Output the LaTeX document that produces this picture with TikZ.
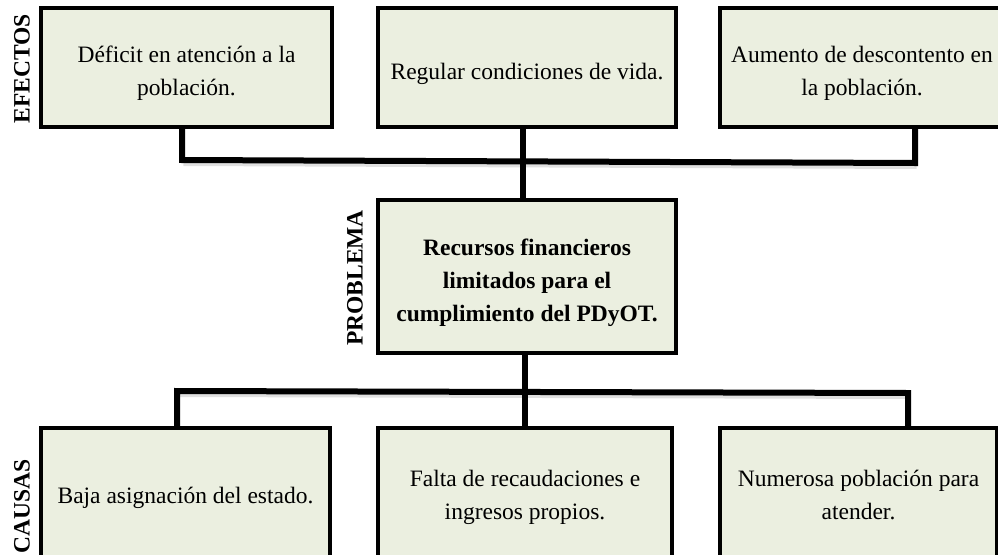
\documentclass[tikz,border=0pt]{standalone}
\usepackage{fontspec}
\setmainfont{Liberation Serif}
\definecolor{boxfill}{RGB}{235,239,224}
\begin{document}
\begin{tikzpicture}[x=1pt,y=-1pt,
  box/.style={draw=black,line width=4.5pt,fill=boxfill,rectangle,inner sep=0pt},
  boxtext/.style={align=center,inner sep=0pt,font=\fontsize{23.5}{33}\selectfont},
  probtext/.style={boxtext,font=\fontsize{23.5}{33}\selectfont\bfseries},
  sidelabel/.style={rotate=90,font=\fontsize{23.5}{28}\selectfont\bfseries,inner sep=0pt},
  conn/.style={line width=6pt,line join=miter,line cap=rect},
  connshadow/.style={line width=6pt,line join=miter,draw=black!35,opacity=0.35}]
\useasboundingbox (0,0) rectangle (998,554);
\clip (0,0) rectangle (998,554);
% boxes
\node[box,minimum width=291pt,minimum height=119pt] (e1) at (186.5,67.5) {};
\node[box,minimum width=298pt,minimum height=119pt] (e2) at (527,67.5) {};
\node[box,minimum width=290pt,minimum height=119pt] (e3) at (865,67.5) {};
\node[box,minimum width=298pt,minimum height=153pt] (p) at (527,276.5) {};
\node[box,minimum width=289pt,minimum height=138pt] (c1) at (185.5,497) {};
\node[box,minimum width=294pt,minimum height=138pt] (c2) at (525,497) {};
\node[box,minimum width=277pt,minimum height=138pt] (c3) at (858.5,497) {};
% texts
\node[boxtext] (e1t) at ([yshift=-6pt]e1.center) {Déficit en atención a la\\población.};
\node[boxtext] (e2t) at ([yshift=-6pt]e2.center) {Regular condiciones de vida.};
\node[boxtext] (e3t) at ([yshift=-6pt,xshift=-3pt]e3.center) {Aumento de descontento en\\la población.};
\node[probtext] (pt) at ([yshift=-6pt]p.center) {Recursos financieros\\limitados para el\\cumplimiento del PDyOT.};
\node[boxtext] (c1t) at ([yshift=-1pt]c1.center) {Baja asignación del estado.};
\node[boxtext] (c2t) at (c2.center) {Falta de recaudaciones e\\ingresos propios.};
\node[boxtext] (c3t) at ([yshift=2pt]c3.center) {Numerosa población para\\atender.};
% side labels
\node[sidelabel] (lef) at (22,69) {EFECTOS};
\node[sidelabel] (lpr) at (355,278) {PROBLEMA};
\node[sidelabel] (lca) at (22,506) {CAUSAS};
% junction coordinates
\coordinate (t1) at (182,160);
\coordinate (t2) at (523,161.5);
\coordinate (t3) at (915,163);
\coordinate (b1) at (177,391);
\coordinate (b2) at (525,392);
\coordinate (b3) at (908,393);
% shadows
\draw[connshadow,transform canvas={shift={(1.5pt,-3pt)}}] (t1) -- (t3);
\draw[connshadow,transform canvas={shift={(1.5pt,-3pt)}}] (b1) -- (b3);
% connectors
\draw[conn] (e1.south -| t1) -- (t1) -- (t3) -- (e3.south -| t3);
\draw[conn] (e2.south -| t2) -- (p.north -| t2);
\draw[conn] (c1.north -| b1) -- (b1) -- (b3) -- (c3.north -| b3);
\draw[conn] (p.south -| b2) -- (c2.north -| b2);
\end{tikzpicture}
\end{document}
